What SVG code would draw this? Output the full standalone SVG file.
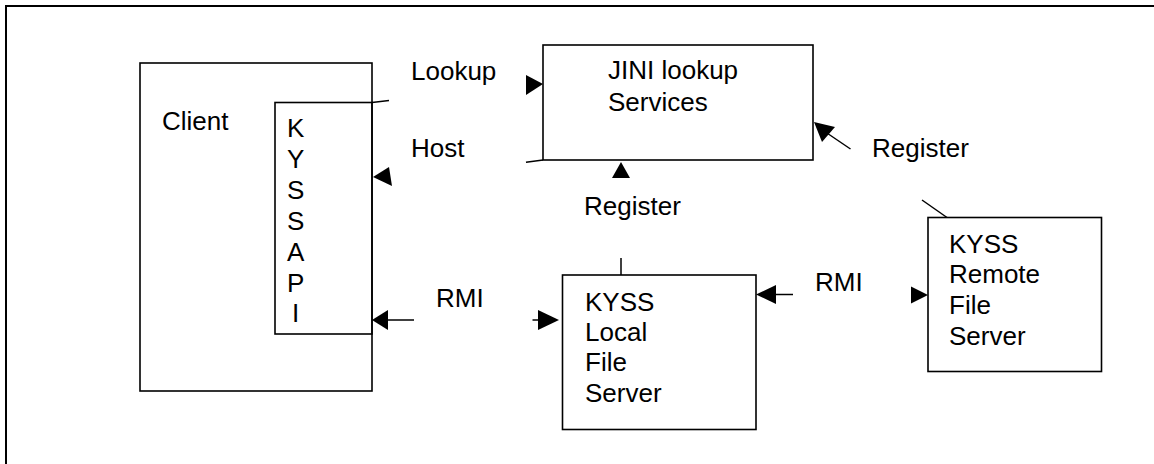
<svg xmlns="http://www.w3.org/2000/svg" width="1154" height="464" viewBox="0 0 1154 464">
<style>
.box{fill:none;stroke:#000;stroke-width:1.6}
.ln{fill:none;stroke:#000;stroke-width:1.5}
.ah{fill:#000;stroke:none}
text{font-family:"Liberation Sans",Arial,sans-serif;font-size:26px;fill:#000}
</style>
<rect width="1154" height="464" fill="#fff"/>
<rect x="6" y="6" width="1160" height="470" fill="none" stroke="#000" stroke-width="2"/>
<g id="client">
<rect class="box" x="140" y="63" width="232" height="328"/>
<text x="162" y="130">Client</text>
</g>
<g id="kyssapi">
<rect class="box" x="275" y="102.5" width="97" height="231.5"/>
<text x="287" y="137">K</text>
<text x="287" y="168">Y</text>
<text x="287" y="199">S</text>
<text x="287" y="230">S</text>
<text x="287" y="261">A</text>
<text x="287" y="292">P</text>
<text x="292" y="322">I</text>
</g>
<g id="jini">
<rect class="box" x="543" y="45" width="270" height="115"/>
<text x="608" y="79">JINI lookup</text>
<text x="608" y="111">Services</text>
</g>
<g id="local">
<rect class="box" x="562.5" y="275" width="193.5" height="154.5"/>
<text x="585" y="311">KYSS</text>
<text x="585" y="341">Local</text>
<text x="585" y="371">File</text>
<text x="585" y="402">Server</text>
</g>
<g id="remote">
<rect class="box" x="928" y="217.5" width="173.5" height="154"/>
<text x="949" y="253">KYSS</text>
<text x="949" y="283">Remote</text>
<text x="949" y="314">File</text>
<text x="949" y="345">Server</text>
</g>
<g id="labels">
<text x="411" y="80">Lookup</text>
<text x="411" y="157">Host</text>
<text x="584" y="215">Register</text>
<text x="872" y="157">Register</text>
<text x="436" y="307">RMI</text>
<text x="815" y="291">RMI</text>
</g>
<g id="connectors">
<line class="ln" x1="372" y1="102.5" x2="389" y2="100.5"/>
<polygon class="ah" points="526,75 543,84 526,95"/>
<polygon class="ah" points="373,177 389,167 392,186"/>
<line class="ln" x1="526" y1="162.3" x2="543" y2="160"/>
<polygon class="ah" points="621,162 630,178 612,178"/>
<line class="ln" x1="821" y1="129" x2="850.5" y2="149"/>
<polygon class="ah" points="814,122 835,127 822,142"/>
<line class="ln" x1="922" y1="200" x2="947" y2="217.5"/>
<line class="ln" x1="621" y1="258" x2="621" y2="275"/>
<line class="ln" x1="385" y1="320" x2="414" y2="320"/>
<polygon class="ah" points="372,320 388,310 388,330"/>
<line class="ln" x1="532.5" y1="320" x2="545" y2="320"/>
<polygon class="ah" points="559,320 538,310 538,330"/>
<line class="ln" x1="772" y1="294.5" x2="793" y2="294.5"/>
<polygon class="ah" points="756,294.5 776,285 776,304"/>
<polygon class="ah" points="928,295 911,286.5 911,303.5"/>
</g>
</svg>
